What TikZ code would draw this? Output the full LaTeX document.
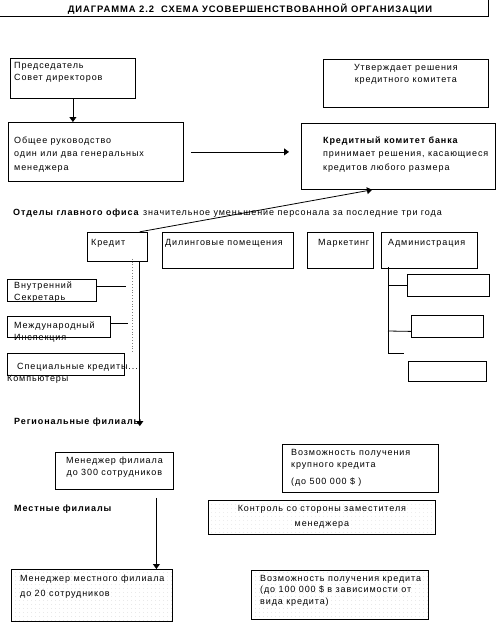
\documentclass[tikz,border=0pt]{standalone}
\usepackage{fontspec}
\setmainfont{Liberation Sans}[LetterSpace=10]
\usetikzlibrary{positioning, arrows.meta, patterns.meta}

\begin{document}
\begin{tikzpicture}[x=1pt, y=-1pt,
    box/.style={draw, line width=0.8pt, anchor=north west, inner sep=0pt},
    dotbox/.style={box, pattern={Dots[distance=4pt, radius=0.3pt]}, pattern color=black!30},
    txt/.style={anchor=base west, inner sep=0pt, font=\fontsize{9}{12}\selectfont, align=left},
    bold/.style={txt, font=\fontsize{9}{12}\selectfont\bfseries},
    arr/.style={line width=0.8pt, -{Triangle[width=7pt, length=5pt]}}]
  \useasboundingbox (0,0) rectangle (502,624);

  % title
  \node[anchor=base, inner sep=0pt, font=\fontsize{9.4}{10}\selectfont\bfseries] (title) at (250,12)
        {ДИАГРАММА 2.2 \ СХЕМА УСОВЕРШЕНСТВОВАННОЙ ОРГАНИЗАЦИИ};
  \draw[line width=0.8pt] (0,16.5) -- (488,16.5) -- (488,0);

  % top level
  \node[box, minimum width=125pt, minimum height=40pt] (pred) at (10,58) {};
  \node[txt] (predt) at (14,80) {Председатель\\Совет директоров};
  \node[box, minimum width=165pt, minimum height=48pt] (utv) at (323,59) {};
  \node[txt, anchor=base, align=center] (utvt) at (utv.north |- 0,82) {Утверждает решения\\кредитного комитета};

  \node[box, minimum width=175pt, minimum height=59pt] (obsh) at (8,122) {};
  \node[txt, font=\fontsize{9}{13.5}\selectfont] (obsht) at (14,170)
        {Общее руководство\\один или два генеральных\\менеджера};
  \node[box, minimum width=194pt, minimum height=66pt] (kom) at (301,123) {};
  \node[txt, font=\fontsize{9}{13.5}\selectfont] (komt) at (323,170)
        {\textbf{Кредитный комитет банка}\\принимает решения, касающиеся\\кредитов любого размера};

  \draw[arr] (pred.south) -- (pred.south |- obsh.north);
  \draw[arr, shorten <=7pt, shorten >=12pt] (obsh.east) -- (obsh.east -| kom.west);

  % head office
  \node[txt] (otd) at (13,215) {\textbf{Отделы главного офиса} значительное уменьшение персонала за последние три года};

  \node[box, minimum width=60pt, minimum height=29pt] (kred) at (87,232) {};
  \node[txt] (kredt) at (91,245) {Кредит};
  \node[box, minimum width=131pt, minimum height=36pt] (dil) at (162,232) {};
  \node[txt] (dilt) at (165,245) {Дилинговые помещения};
  \node[box, minimum width=66pt, minimum height=36pt] (mark) at (307,232) {};
  \node[txt] (markt) at (318,245) {Маркетинг};
  \node[box, minimum width=96pt, minimum height=36pt] (adm) at (381,232) {};
  \node[txt] (admt) at (388,245) {Администрация};

  \draw[arr, shorten <=1pt] ([xshift=-9pt]kred.north east) -- ([xshift=71pt]kom.south west);

  % credit branch
  \node[box, minimum width=89pt, minimum height=22pt] (sekr) at (7,279) {};
  \node[txt] (sekrt) at (14,300) {Внутренний\\Секретарь};
  \node[box, minimum width=103pt, minimum height=21pt] (insp) at (7,316) {};
  \node[txt] (inspt) at (14,340) {Международный\\Инспекция};
  \node[box, minimum width=117pt, minimum height=22pt] (spec) at (7,353) {};
  \node[txt] (spect) at (17,369) {Специальные кредиты...};
  \node[txt] (komp) at (7,381) {Компьютеры};

  \draw[gray, dotted, line width=0.8pt] ([xshift=-15pt, yshift=3pt]kred.south east) -- ([xshift=-15pt]kred.south east |- spec.north);
  \draw[line width=0.8pt] ([yshift=4pt]sekr.east) -- ++(29,0);
  \draw[line width=0.8pt] ([yshift=3.5pt]insp.east) -- ++(17,0);

  \node[bold] (reg) at (14,424) {Региональные филиалы};
  \draw[arr] ([xshift=-8pt]kred.south east) -- ([xshift=-8pt]kred.south east |- reg.south) coordinate (regtip);

  % administration branch
  \node[box, minimum width=82pt, minimum height=22pt] (adm1) at (407,274) {};
  \node[box, minimum width=72pt, minimum height=22pt] (adm2) at (411,315) {};
  \node[box, minimum width=78pt, minimum height=20pt] (adm3) at (408,361) {};
  \coordinate (admtop) at ([xshift=7pt, yshift=2pt]adm.south west);
  \draw[line width=0.8pt] (admtop) -- (admtop |- 0,353) coordinate (admbot) -- ++(16,0);
  \draw[line width=0.8pt] (admtop |- adm1.west) -- (adm1.west);
  \draw[line width=0.8pt] (admtop |- 0,331) -- ([yshift=-5pt]adm2.west);

  % regional branches
  \node[box, minimum width=118pt, minimum height=37pt] (fil) at (55,452) {};
  \node[txt, anchor=base, align=center, font=\fontsize{9}{11.5}\selectfont] (filt) at (fil.north |- 0,475)
        {Менеджер филиала\\до 300 сотрудников};
  \node[box, minimum width=156pt, minimum height=48pt] (krup) at (282,444) {};
  \node[txt, font=\fontsize{9}{11.5}\selectfont] (krupt) at (291,467) {Возможность получения\\крупного кредита};
  \node[txt] (krupd) at (291,484) {(до 500 000 \$ )};

  % local branches
  \node[bold] (mestn) at (14,511) {Местные филиалы};
  \node[dotbox, minimum width=227pt, minimum height=34pt] (kontr) at (208,500) {};
  \node[txt, anchor=base, align=center, font=\fontsize{9}{15}\selectfont] (kontrt) at (kontr.north |- 0,526)
        {Контроль со стороны заместителя\\менеджера};

  \node[dotbox, minimum width=161pt, minimum height=52pt] (mest) at (11,569) {};
  \node[txt, font=\fontsize{9}{15}\selectfont] (mestt) at (20,596) {Менеджер местного филиала\\до 20 сотрудников};
  \node[dotbox, minimum width=177pt, minimum height=49pt] (vozm) at (251,570) {};
  \node[txt, font=\fontsize{9}{11.5}\selectfont] (vozmt) at (260,604)
        {Возможность получения кредита\\(до 100 000 \$ в зависимости от\\вида кредита)};

  \draw[arr] ([xshift=42pt, yshift=-8pt]fil.south) -- ([xshift=42pt]fil.south |- mest.north);
\end{tikzpicture}
\end{document}
